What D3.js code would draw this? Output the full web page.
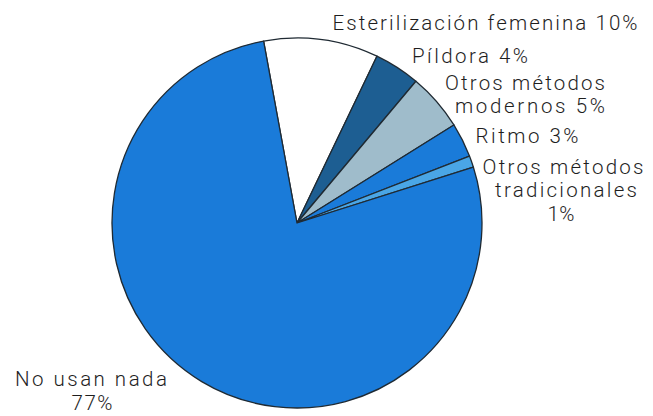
<!DOCTYPE html>
<html>
<head>
<meta charset="utf-8">
<script src="https://cdn.jsdelivr.net/npm/d3@7"></script>
<style>
  html, body { margin: 0; padding: 0; background: #fff; }
  svg { display: block; }
  text { font-family: Roboto, "Liberation Sans", Arial, sans-serif; font-weight: 300; fill: #1e1e1e; }
</style>
</head>
<body>
<svg id="chart" width="653" height="416"></svg>
<script>
// Contraceptive method shares (%)
const categories = [
  "Esterilización femenina",
  "Píldora",
  "Otros métodos modernos",
  "Ritmo",
  "Otros métodos tradicionales",
  "No usan nada"
];
const values = [10, 4, 5, 3, 1, 77];
const sliceColors = ["#ffffff", "#1d5e92", "#9fbccb", "#1a7bd9", "#4aa6e6", "#1a7bd9"];

// Label lines for each slice (text only)
const labelLines = [
  ["Esterilización femenina 10%"],
  ["Píldora 4%"],
  ["Otros métodos", "modernos 5%"],
  ["Ritmo 3%"],
  ["Otros métodos", "tradicionales", "1%"],
  ["No usan nada", "77%"]
];

// Label layout: per line [center x, baseline y, line width]
const labelLayout = [
  [[485, 30, 305]],
  [[470, 63, 116]],
  [[525, 90, 160], [530, 113, 150]],
  [[527, 143, 103]],
  [[563, 174, 161], [566, 197, 142], [561, 221, 27]],
  [[91, 386, 152], [92, 410, 41]]
];

const svg = d3.select("#chart");
const cx = 297, cy = 223, r = 185;
const start = -10.4 * Math.PI / 180;

const pie = d3.pie().sort(null).value(d => d).startAngle(start).endAngle(start + 2 * Math.PI);
const arc = d3.arc().innerRadius(0).outerRadius(r);

const g = svg.append("g").attr("transform", `translate(${cx},${cy})`);
g.selectAll("path")
  .data(pie(values))
  .join("path")
  .attr("d", arc)
  .attr("fill", (d, i) => sliceColors[i])
  .attr("stroke", "#1f2a33")
  .attr("stroke-width", 1.3)
  .attr("stroke-linejoin", "round");

const labels = svg.append("g");
labelLines.forEach((lines, i) => {
  lines.forEach((s, j) => {
    const [x, y, w] = labelLayout[i][j];
    labels.append("text")
      .attr("x", x - w / 2)
      .attr("y", y)
      .attr("font-size", 20.5)
      .attr("textLength", w)
      .attr("lengthAdjust", "spacing")
      .text(s);
  });
});
</script>
</body>
</html>
